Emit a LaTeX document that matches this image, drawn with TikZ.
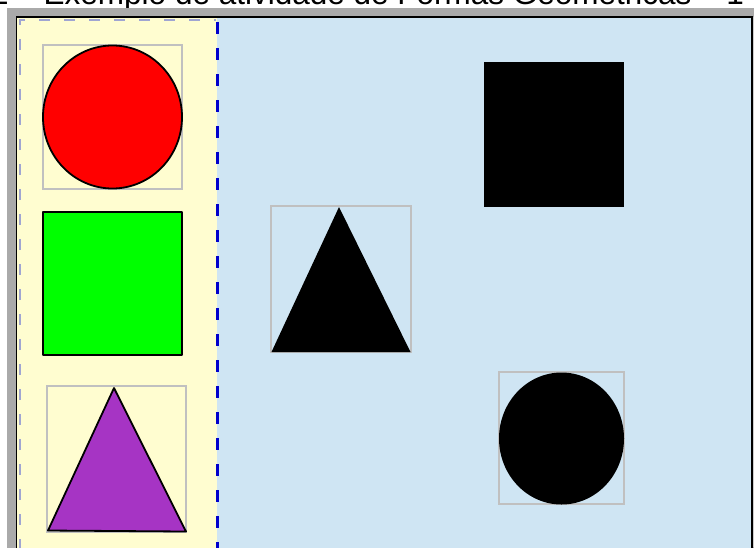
\documentclass[tikz,border=0pt]{standalone}
\usepackage{fontspec}
\setmainfont{Liberation Sans}
\definecolor{framegray}{RGB}{170,170,170}
\definecolor{paneyellow}{RGB}{255,253,208}
\definecolor{paneblue}{RGB}{207,229,243}
\definecolor{dashlav}{RGB}{160,165,210}
\definecolor{sepblue}{RGB}{0,0,204}
\definecolor{boxgray}{RGB}{192,192,192}
\definecolor{shapered}{RGB}{255,0,0}
\definecolor{shapegreen}{RGB}{0,255,0}
\definecolor{shapepurple}{RGB}{166,52,196}
\tikzset{
  guidebox/.style={draw=boxgray, line width=1.2pt},
  colshape/.style={draw=black, line width=1.8pt, line join=round},
  blackshape/.style={fill=black, draw=none},
  titletext/.style={anchor=base west, inner sep=0pt, font=\fontsize{31.5}{36}\selectfont}
}
\begin{document}
\begin{tikzpicture}[x=1pt,y=-1pt]
\useasboundingbox (0,0) rectangle (754,547);
% title (cut by the page top)
\node[titletext] (title) at (-9,4) {2 – Exemplo de atividade de Formas Geométricas – 1};
% frame
\fill[framegray] (7,8) rectangle (760,560);
\fill[black] (15.5,16) rectangle (752.5,560);
\fill[paneblue] (17,17.5) rectangle (751,560);
\fill[paneyellow] (17,17.5) rectangle (217,560);
\draw[dashlav, line width=2pt, dash pattern=on 11pt off 14pt] (19.5,600) -- (19.5,19.5) -- (216,19.5);
\draw[sepblue, line width=2.4pt, dash pattern=on 12pt off 14pt] (217.5,22) -- (217.5,560);
\fill[framegray!60] (753,17) rectangle (754,547);
% left palette
\draw[guidebox] (43,45) rectangle (182,189);
\draw[colshape, fill=shapered] (112.5,117) ellipse [x radius=69.5, y radius=71.5];
\draw[colshape, fill=shapegreen] (43,212) rectangle (182,355);
\draw[guidebox] (47,386) rectangle (186,532);
\draw[colshape, fill=shapepurple] (114,388) -- (186,531.5) -- (48,530.5) -- cycle;
% right work area
\fill[blackshape] (484,62) rectangle (624,207);
\draw[guidebox] (271,206) rectangle (411,352);
\fill[blackshape] (339,207) -- (410.5,352) -- (271.5,352) -- cycle;
\draw[guidebox] (499,372) rectangle (624,504);
\fill[blackshape] (561.5,438.5) ellipse [x radius=62.5, y radius=66];
\end{tikzpicture}
\end{document}
